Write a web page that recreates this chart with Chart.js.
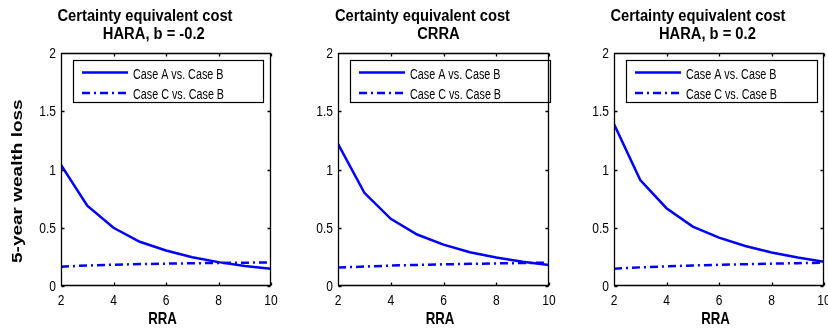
<!DOCTYPE html>
<html>
<head>
<meta charset="utf-8">
<script src="https://cdn.jsdelivr.net/npm/chart.js@4/dist/chart.umd.min.js"></script>
<style>
  html, body { margin: 0; padding: 0; background: #fff; }
  #wrap { position: relative; width: 828px; height: 330px; overflow: hidden; background: #fff; }
  #wrap canvas { position: absolute; top: 0; }
</style>
</head>
<body>
<div id="wrap"></div>
<script>
// Relative risk aversion grid shared by every panel
const rra = [2, 3, 4, 5, 6, 7, 8, 9, 10];

// 5-year wealth loss, HARA with b = -0.2
const haraNegCaseA = [1.04, 0.69, 0.50, 0.38, 0.305, 0.247, 0.205, 0.172, 0.149];
const haraNegCaseC = [0.166, 0.176, 0.183, 0.188, 0.192, 0.195, 0.198, 0.200, 0.203];

// 5-year wealth loss, CRRA
const crraCaseA = [1.22, 0.80, 0.577, 0.442, 0.355, 0.290, 0.244, 0.209, 0.181];
const crraCaseC = [0.158, 0.167, 0.175, 0.181, 0.186, 0.190, 0.194, 0.197, 0.200];

// 5-year wealth loss, HARA with b = 0.2
const haraPosCaseA = [1.39, 0.91, 0.668, 0.510, 0.415, 0.344, 0.287, 0.244, 0.209];
const haraPosCaseC = [0.149, 0.160, 0.169, 0.176, 0.182, 0.187, 0.192, 0.196, 0.200];

const mainTitle = 'Certainty equivalent cost';
const panelSubtitles = ['HARA, b = -0.2', 'CRRA', 'HARA, b = 0.2'];
const seriesNames = ['Case A vs. Case B', 'Case C vs. Case B'];
const xAxisLabel = 'RRA';
const yAxisLabel = '5-year wealth loss';
const xTicks = { min: 2, max: 10, step: 2 };
const yTicks = { min: 0, max: 2, step: 0.5 };

// Page layout of the three axes
const layout = [
  { left: 0,   width: 282, padRight: 11, legendW: 190, yLabel: true },
  { left: 277, width: 283, padRight: 11, legendW: 200, yLabel: false },
  { left: 553, width: 275, padRight: 4,  legendW: 191, yLabel: false }
];
const panelSeries = [
  [haraNegCaseA, haraNegCaseC],
  [crraCaseA, crraCaseC],
  [haraPosCaseA, haraPosCaseC]
];

const BLUE = '#0000ff';
const DASH_DOT = [8, 4, 2, 4];
const FONT = '"Liberation Sans", Arial, sans-serif';

// Draw text squeezed horizontally by sx; align: left | center | right | lead
function squeezedText(ctx, str, x, y, font, sx, align) {
  ctx.save();
  ctx.font = font;
  const w = ctx.measureText(str).width * sx;
  let x0 = x;
  if (align === 'center') x0 = x - w / 2;
  else if (align === 'right') x0 = x - w;
  else if (align === 'lead') x0 = x - 0.62 * w;
  ctx.translate(x0, y);
  ctx.scale(sx, 1);
  ctx.textAlign = 'left';
  ctx.textBaseline = 'alphabetic';
  ctx.fillStyle = '#000';
  ctx.fillText(str, 0, 0);
  ctx.restore();
}

const boxedAxes = {
  id: 'boxedAxes',
  afterDatasetsDraw(chart, args, opts) {
    const ctx = chart.ctx;
    const a = chart.chartArea;
    const xs = chart.scales.x, ys = chart.scales.y;
    const cx = (a.left + a.right) / 2;

    // legend box
    const lx = a.left + 12, ly = a.top + 7, lw = opts.legendW, lh = 42;
    ctx.save();
    ctx.fillStyle = '#fff';
    ctx.fillRect(lx, ly, lw, lh);
    ctx.strokeStyle = '#000';
    ctx.lineWidth = 1.2;
    ctx.strokeRect(lx + 0.5, ly + 0.5, lw, lh);
    chart.data.datasets.forEach((ds, i) => {
      const yy = ly + 12.5 + i * 20.5;
      ctx.beginPath();
      ctx.strokeStyle = ds.borderColor;
      ctx.lineWidth = ds.borderWidth;
      ctx.setLineDash(ds.borderDash || []);
      ctx.moveTo(lx + 9, yy);
      ctx.lineTo(lx + 55, yy);
      ctx.stroke();
      ctx.setLineDash([]);
      squeezedText(ctx, ds.label, lx + 60, yy + 6, '14px ' + FONT, 0.77, 'left');
    });
    ctx.restore();

    // axes box with inward ticks on all four sides
    ctx.save();
    ctx.strokeStyle = '#000';
    ctx.lineWidth = 1.3;
    const L = Math.round(a.left) + 0.5, R = Math.round(a.right) - 0.5;
    const T = Math.round(a.top) + 0.5, B = Math.round(a.bottom) - 0.5;
    ctx.beginPath();
    ctx.rect(L, T, R - L, B - T);
    xs.ticks.forEach(t => {
      const px = Math.round(xs.getPixelForValue(t.value)) + 0.5;
      ctx.moveTo(px, B); ctx.lineTo(px, B - 3);
      ctx.moveTo(px, T); ctx.lineTo(px, T + 3);
    });
    ys.ticks.forEach(t => {
      const py = Math.round(ys.getPixelForValue(t.value)) + 0.5;
      ctx.moveTo(L, py); ctx.lineTo(L + 3, py);
      ctx.moveTo(R, py); ctx.lineTo(R - 3, py);
    });
    ctx.stroke();
    ctx.restore();

    // tick labels
    const tickFont = '14px ' + FONT;
    xs.ticks.forEach(t => {
      squeezedText(ctx, t.label, xs.getPixelForValue(t.value), a.bottom + 19, tickFont, 0.86, 'center');
    });
    ys.ticks.forEach(t => {
      squeezedText(ctx, t.label, a.left - 5, ys.getPixelForValue(t.value) + 5, tickFont, 0.86, 'right');
    });

    // titles
    const titleFont = 'bold 16px ' + FONT;
    squeezedText(ctx, mainTitle, cx, 20.5, titleFont, 0.92, 'lead');
    squeezedText(ctx, opts.subtitle, cx, 39, titleFont, 0.92, 'lead');

    // axis labels
    squeezedText(ctx, xAxisLabel, cx, a.bottom + 38, 'bold 17px ' + FONT, 0.78, 'lead');
    if (opts.yLabel) {
      ctx.save();
      ctx.translate(22, 263);
      ctx.rotate(-Math.PI / 2);
      ctx.scale(1, 0.73);
      ctx.font = 'bold 19px ' + FONT;
      ctx.fillStyle = '#000';
      ctx.textAlign = 'left';
      ctx.textBaseline = 'alphabetic';
      ctx.fillText(yAxisLabel, 0, 0);
      ctx.restore();
    }
  }
};

// Plain numeric tick text: 0, 0.5, 1, 1.5, 2
const plainNumber = v => String(Math.round(v * 100) / 100);

const wrap = document.getElementById('wrap');
layout.forEach((pl, p) => {
  const canvas = document.createElement('canvas');
  canvas.width = pl.width;
  canvas.height = 330;
  canvas.style.left = pl.left + 'px';
  canvas.style.width = pl.width + 'px';
  canvas.style.height = '330px';
  wrap.appendChild(canvas);

  const [caseA, caseC] = panelSeries[p];
  new Chart(canvas, {
    type: 'line',
    data: {
      datasets: [
        {
          label: seriesNames[0],
          data: rra.map((x, i) => ({ x, y: caseA[i] })),
          borderColor: BLUE, borderWidth: 2.5, pointRadius: 0, tension: 0, fill: false
        },
        {
          label: seriesNames[1],
          data: rra.map((x, i) => ({ x, y: caseC[i] })),
          borderColor: BLUE, borderWidth: 2.5, borderDash: DASH_DOT, pointRadius: 0, tension: 0, fill: false
        }
      ]
    },
    options: {
      responsive: false,
      animation: false,
      devicePixelRatio: 1,
      layout: { padding: { left: 0, top: 53, right: pl.padRight, bottom: 0 } },
      plugins: {
        legend: { display: false },
        title: { display: false },
        tooltip: { enabled: false },
        boxedAxes: { subtitle: panelSubtitles[p], legendW: pl.legendW, yLabel: pl.yLabel }
      },
      scales: {
        x: {
          type: 'linear', min: xTicks.min, max: xTicks.max,
          ticks: { stepSize: xTicks.step, display: false, callback: plainNumber },
          grid: { display: false }, border: { display: false },
          afterFit: s => { s.height = 44; }
        },
        y: {
          type: 'linear', min: yTicks.min, max: yTicks.max,
          ticks: { stepSize: yTicks.step, display: false, callback: plainNumber },
          grid: { display: false }, border: { display: false },
          afterFit: s => { s.width = 61; }
        }
      }
    },
    plugins: [boxedAxes]
  });
});
</script>
</body>
</html>
